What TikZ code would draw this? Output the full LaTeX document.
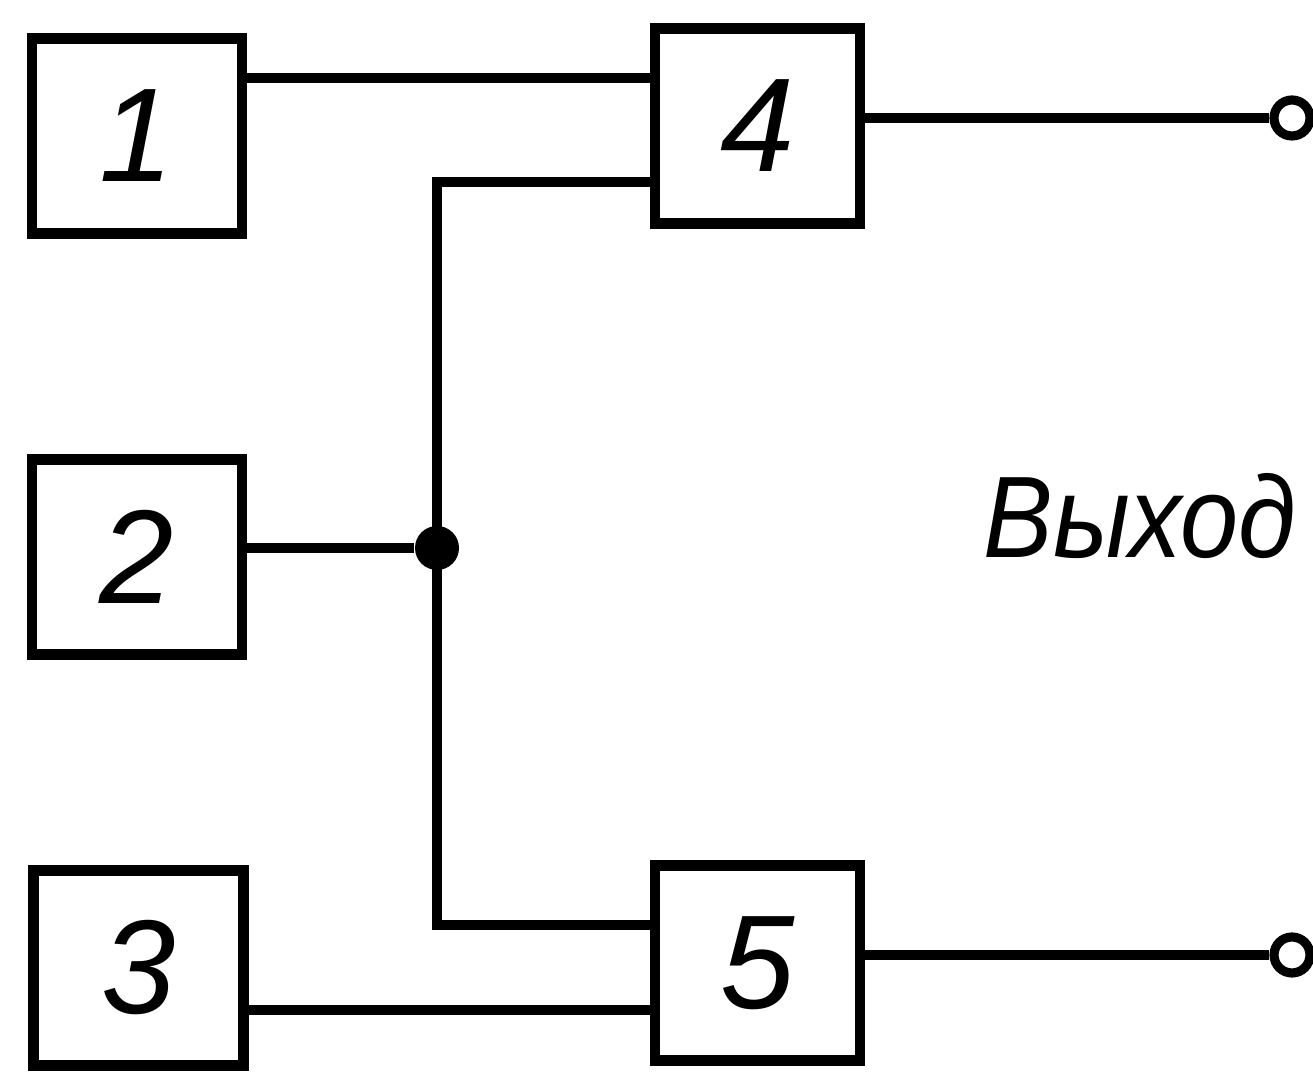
\documentclass[tikz,border=0pt]{standalone}
\usepackage{fontspec}
\setmainfont{Liberation Sans}
\usetikzlibrary{positioning, calc}
\tikzset{
  Bx/.style={draw, line width=2.9pt, minimum width=2.05cm, minimum height=1.95cm,
    inner sep=0pt, font=\fontsize{38}{38}\selectfont\itshape},
  ln/.style={line width=2.6pt},
  term/.style={circle, draw, fill=white, line width=2.6pt, minimum size=0.36cm, inner sep=0pt},
  jdot/.style={circle, fill, minimum size=0.44cm, inner sep=0pt},
  lbl/.style={font=\fontsize{33}{33}\selectfont\itshape, anchor=base}
}

\begin{document}
\begin{tikzpicture}
\useasboundingbox (0,0) rectangle (13.13,10.77);

% blocks
\node[Bx, minimum width=2.1cm] (B1) at (1.37, 9.41) {1};
\node[Bx, minimum width=2.1cm] (B2) at (1.37, 5.20) {2};
\node[Bx, minimum width=2.1cm] (B3) at (1.385, 1.09) {3};
\node[Bx] (B4) at (7.575, 9.51) {4};
\node[Bx] (B5) at (7.575, 1.14) {5};

% ports
\coordinate (i41) at ([yshift=4.8mm]B4.west);
\coordinate (i42) at ([yshift=-5.6mm]B4.west);
\coordinate (i51) at ([yshift=3.8mm]B5.west);
\coordinate (i52) at ([yshift=-4.7mm]B5.west);

\node[jdot] (J) at (4.37, 5.29) {};
\node[term] (T1) at (12.92, 9.59) {};
\node[term] (T2) at (12.92, 1.22) {};

\draw[ln] (B1.east |- i41) -- (i41);
\draw[ln] (i42) -| (J.center) |- (i51);
\draw[ln] (B2.east |- J) -- (J);
\draw[ln] (B3.east |- i52) -- (i52);
\draw[ln] (B4.east |- T1) -- (T1);
\draw[ln] (B5.east |- T2) -- (T2);

\node[lbl] (out) at (11.40, 5.19) {\scalebox{0.9}[1]{Выход}};

\end{tikzpicture}
\end{document}
